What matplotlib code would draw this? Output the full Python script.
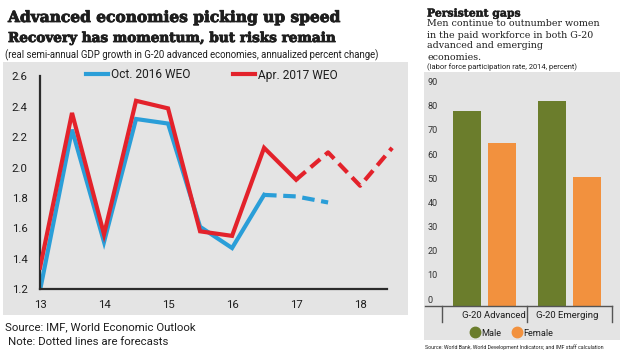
import matplotlib
matplotlib.use("Agg")
import matplotlib.pyplot as plt
from matplotlib.patches import Rectangle
from matplotlib.lines import Line2D
from matplotlib import transforms
import matplotlib.patheffects as pe

plt.rcParams["font.family"] = ["Roboto", "DejaVu Sans"]

# left chart: semi-annual GDP growth
half_years = [13.0, 13.5, 14.0, 14.5, 15.0, 15.5, 16.0, 16.5, 17.0, 17.5, 18.0, 18.5]
oct2016 = [1.19, 2.25, 1.51, 2.32, 2.29, 1.61, 1.47, 1.82, 1.81, 1.77]
apr2017 = [1.34, 2.36, 1.56, 2.44, 2.39, 1.58, 1.55, 2.13, 1.92, 2.10, 1.88, 2.13]
oct_solid_end = 8   # last actual point index + 1
apr_solid_end = 9
x_ticks = [13, 14, 15, 16, 17, 18]
y_ticks = [1.2, 1.4, 1.6, 1.8, 2.0, 2.2, 2.4, 2.6]

# right chart: labor force participation
groups = ["G-20 Advanced", "G-20 Emerging"]
male = [80.8, 84.9]
female = [67.3, 53.5]
bar_ticks = [0, 10, 20, 30, 40, 50, 60, 70, 80, 90]

BLUE = "#2a9ed8"
RED = "#e3222b"
GREEN = "#6b7d2c"
ORANGE = "#f2913e"
BG = "#e4e4e4"
TXT = "#1e1e1e"

W, H = 620, 359
fig = plt.figure(figsize=(6.2, 3.59), dpi=100)


def px(x, y):
    return x / W, 1 - y / H


heavy = [pe.withStroke(linewidth=0.6, foreground=TXT)]

# grey panels
fig.patches.append(Rectangle(px(3, 315), 405 / W, 253 / H, transform=fig.transFigure,
                             facecolor=BG, edgecolor="none", zorder=-5))
fig.patches.append(Rectangle(px(424, 340), 196 / W, 268 / H, transform=fig.transFigure,
                             facecolor=BG, edgecolor="none", zorder=-5))

# ---- left line chart ----
ax = fig.add_axes([40 / W, 1 - 289 / H, 347 / W, (289 - 76.5) / H])
ax.set_facecolor("none")
ax.set_xlim(13, 18.42)
ax.set_ylim(1.2, 2.6)
for s in ["top", "right"]:
    ax.spines[s].set_visible(False)
for s in ["left", "bottom"]:
    ax.spines[s].set_color("#2b2b2b")
    ax.spines[s].set_linewidth(1.6)
ax.set_xticks(x_ticks)
ax.set_xticklabels([str(t) for t in x_ticks])
ax.set_yticks(y_ticks)
ax.set_yticklabels([f"{t:.1f}" for t in y_ticks])
ax.tick_params(length=0, labelsize=8.2, colors=TXT)
ax.tick_params(axis="x", pad=8)
ax.tick_params(axis="y", pad=9)

ax.plot(half_years[:apr_solid_end], apr2017[:apr_solid_end], color=RED, lw=3,
        solid_joinstyle="miter", zorder=3)
ax.plot(half_years[apr_solid_end - 1:], apr2017[apr_solid_end - 1:], color=RED, lw=3,
        dashes=(3, 1.6), clip_on=False, zorder=3)
ax.plot(half_years[:oct_solid_end], oct2016[:oct_solid_end], color=BLUE, lw=3,
        solid_joinstyle="miter", zorder=2)
ax.plot(half_years[oct_solid_end - 1:len(oct2016)], oct2016[oct_solid_end - 1:],
        color=BLUE, lw=3, dashes=(3, 1.6), zorder=2)

handles = [Line2D([], [], color=BLUE, lw=3), Line2D([], [], color=RED, lw=3)]
fig.legend(handles, ["Oct. 2016 WEO", "Apr. 2017 WEO"], loc="center",
           bbox_to_anchor=px(212, 75), ncol=2, frameon=False, fontsize=8.6,
           handlelength=1.8, handletextpad=0.25, columnspacing=3.6,
           borderpad=0, labelcolor=TXT)

# titles and notes
fig.text(*px(8, 18), "Advanced economies picking up speed", fontsize=11.1,
         family="DejaVu Serif", weight="bold", va="center", color=TXT,
         path_effects=heavy)
fig.text(*px(8, 38), "Recovery has momentum, but risks remain", fontsize=9.8,
         family="DejaVu Serif", weight="bold", va="center", color=TXT,
         path_effects=heavy)
fig.text(*px(5, 55), "(real semi-annual GDP growth in G-20 advanced economies, annualized percent change)",
         fontsize=6.9, va="center", color=TXT,
         family=["Liberation Sans Narrow", "Roboto", "DejaVu Sans"])
fig.text(*px(5, 327), "Source: IMF, World Economic Outlook", fontsize=8.2,
         va="center", color=TXT)
fig.text(*px(8, 342), "Note: Dotted lines are forecasts", fontsize=8.2,
         va="center", color=TXT)

# ---- right bar chart ----
bx = fig.add_axes([425 / W, 1 - 306 / H, 187 / W, (306 - 76.4) / H])
bx.set_facecolor("none")
bx.set_xlim(-0.7, 1.5)
bx.set_ylim(0, 95)
for s in ["top", "right", "left"]:
    bx.spines[s].set_visible(False)
bx.spines["bottom"].set_color("#555555")
bx.spines["bottom"].set_linewidth(1.0)
bx.set_xticks([])
bx.set_yticks([])

pos = list(range(len(groups)))
bx.bar([p - 0.205 for p in pos], male, width=0.335, color=GREEN, zorder=2)
bx.bar([p + 0.205 for p in pos], female, width=0.335, color=ORANGE, zorder=2)

lab_tr = transforms.offset_copy(bx.transData, fig=fig, x=0, y=4.3, units="points")
for t in bar_ticks:
    bx.text(-0.67, t, str(t), transform=lab_tr, fontsize=6.6, va="center",
            ha="left", color="#333333")

div_tr = transforms.blended_transform_factory(bx.transData, fig.transFigure)
for d in [-0.5, 0.5, 1.5]:
    bx.plot([d, d], [1 - 306 / H, 1 - 322 / H], color="#555555", lw=1.0,
            transform=div_tr, clip_on=False)
for g, xg in zip(groups, [0.11, 0.97]):
    bx.text(xg, 1 - 315 / H, g, transform=div_tr, fontsize=6.8, ha="center",
            va="center", color=TXT)

bh = [Line2D([], [], ls="none", marker="o", markersize=7.5, color=GREEN),
      Line2D([], [], ls="none", marker="o", markersize=7.5, color=ORANGE)]
fig.legend(bh, ["Male", "Female"], loc="center", bbox_to_anchor=px(512, 333),
           ncol=2, frameon=False, fontsize=6.6, handlelength=0.8,
           handletextpad=0.3, columnspacing=1.3, borderpad=0, labelcolor=TXT)

fig.text(*px(427, 13), "Persistent gaps", fontsize=7.8, family="DejaVu Serif",
         weight="bold", va="center", color=TXT,
         path_effects=[pe.withStroke(linewidth=0.35, foreground=TXT)])
sub_lines = ["Men continue to outnumber women", "in the paid workforce in both G-20",
             "advanced and emerging", "economies."]
for i, line in enumerate(sub_lines):
    fig.text(*px(427, 24 + 11 * i), line, fontsize=6.8, family="DejaVu Serif",
             va="center", color=TXT)
fig.text(*px(427, 67), "(labor force participation rate, 2014, percent)",
         fontsize=5.4, va="center", color=TXT)
fig.text(*px(425, 347), "Source: World Bank, World Development Indicators; and IMF staff calculation",
         fontsize=3.75, va="center", color=TXT)

fig.savefig("out.png", dpi=100)
